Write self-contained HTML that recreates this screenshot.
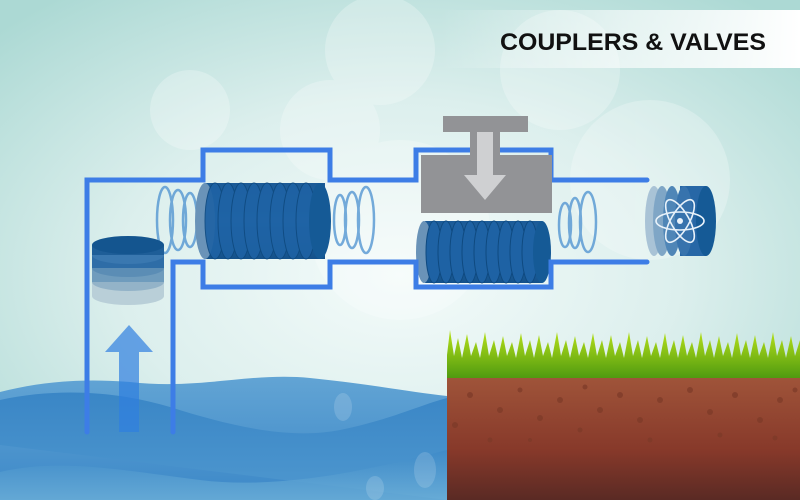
<!DOCTYPE html>
<html><head><meta charset="utf-8"><style>
html,body{margin:0;padding:0;width:800px;height:500px;overflow:hidden}
svg{display:block}
</style></head><body>
<svg width="800" height="500" viewBox="0 0 800 500" xmlns="http://www.w3.org/2000/svg">
<defs>
<radialGradient id="bg" cx="0.5" cy="0.55" r="0.7">
<stop offset="0" stop-color="#f4fbfa"/><stop offset="0.5" stop-color="#dcefed"/><stop offset="1" stop-color="#acd9d4"/>
</radialGradient>
<linearGradient id="ban" x1="0" x2="1"><stop offset="0" stop-color="#fff" stop-opacity="0"/><stop offset="0.5" stop-color="#fff" stop-opacity="0.6"/><stop offset="1" stop-color="#fff"/></linearGradient>
<linearGradient id="w1" x1="0" y1="0" x2="0" y2="1"><stop offset="0" stop-color="#62a4d4"/><stop offset="1" stop-color="#3c88c8"/></linearGradient>
<linearGradient id="w2" x1="0" y1="0" x2="0" y2="1"><stop offset="0" stop-color="#3a86c6"/><stop offset="1" stop-color="#4f98cf"/></linearGradient>
<linearGradient id="w3" x1="0" y1="0" x2="0" y2="1"><stop offset="0" stop-color="#3d89c8"/><stop offset="1" stop-color="#6db0d8"/></linearGradient>
<linearGradient id="soil" x1="0" y1="0" x2="0" y2="1"><stop offset="0" stop-color="#a0553a"/><stop offset="0.6" stop-color="#87392a"/><stop offset="1" stop-color="#5a2a24"/></linearGradient>
<linearGradient id="grass" x1="0" y1="0" x2="0" y2="1"><stop offset="0" stop-color="#b8e21a"/><stop offset="1" stop-color="#4f9a10"/></linearGradient>
<linearGradient id="cyl" x1="0" y1="0" x2="0" y2="1"><stop offset="0" stop-color="#1b5a96"/><stop offset="0.5" stop-color="#2a72b4"/><stop offset="1" stop-color="#14518a"/></linearGradient>
</defs>
<rect width="800" height="500" fill="url(#bg)"/>
<g fill="#fff" opacity="0.25">
<circle cx="380" cy="50" r="55"/><circle cx="560" cy="70" r="60"/><circle cx="650" cy="180" r="80"/><circle cx="330" cy="130" r="50"/><circle cx="190" cy="110" r="40"/><circle cx="400" cy="230" r="90"/>
</g>
<rect x="440" y="10" width="360" height="58" fill="url(#ban)"/>
<text x="500" y="50" textLength="266" lengthAdjust="spacingAndGlyphs" font-family="Liberation Sans, sans-serif" font-weight="bold" font-size="24" fill="#111">COUPLERS &amp; VALVES</text>

<!-- water -->
<path d="M0 392 C40 382 80 378 130 382 C200 390 250 372 310 378 C370 384 410 392 447 396 L447 500 L0 500Z" fill="url(#w1)"/>
<path d="M0 445 L0 400 C60 387 120 392 170 407 C230 426 290 440 340 430 C390 420 420 405 447 398 L447 500Z" fill="url(#w2)"/>
<path d="M0 500 L0 472 C60 458 120 470 200 480 C280 490 370 470 447 450 L447 500Z" fill="url(#w3)" opacity="0.8"/>
<g fill="#fff" opacity="0.15"><ellipse cx="343" cy="407" rx="9" ry="14"/><ellipse cx="425" cy="470" rx="11" ry="18"/><ellipse cx="375" cy="488" rx="9" ry="12"/></g>

<!-- soil -->
<rect x="447" y="375" width="353" height="125" fill="url(#soil)"/>
<g fill="#7c3a28" opacity="0.7">
<circle cx="455" cy="425" r="3"/><circle cx="470" cy="395" r="3"/><circle cx="500" cy="410" r="3"/><circle cx="520" cy="390" r="2.5"/><circle cx="540" cy="418" r="3"/><circle cx="560" cy="400" r="3"/><circle cx="585" cy="387" r="2.5"/><circle cx="600" cy="410" r="3"/><circle cx="620" cy="395" r="3"/><circle cx="640" cy="420" r="3"/><circle cx="660" cy="400" r="3"/><circle cx="690" cy="390" r="3"/><circle cx="710" cy="412" r="3"/><circle cx="735" cy="395" r="3"/><circle cx="760" cy="420" r="3"/><circle cx="780" cy="400" r="3"/><circle cx="795" cy="390" r="2.5"/><circle cx="490" cy="440" r="2.5"/><circle cx="580" cy="430" r="2.5"/><circle cx="650" cy="440" r="2.5"/><circle cx="720" cy="435" r="2.5"/><circle cx="775" cy="438" r="2.5"/><circle cx="530" cy="440" r="2"/>
</g>
<!-- grass -->
<path d="M447 378 L447 355 L450 330 L454 356 L458 338 L462 358 L467 334 L471 356 L476 342 L480 358 L485 332 L489 356 L494 340 L498 358 L503 336 L507 356 L512 342 L516 358 L521 333 L525 356 L530 340 L534 358 L539 335 L543 356 L548 342 L552 358 L557 332 L561 356 L566 340 L570 358 L575 336 L579 356 L584 342 L588 358 L593 333 L597 356 L602 340 L606 358 L611 335 L615 356 L620 342 L624 358 L629 332 L633 356 L638 340 L642 358 L647 336 L651 356 L656 342 L660 358 L665 333 L669 356 L674 340 L678 358 L683 335 L687 356 L692 342 L696 358 L701 332 L705 356 L710 340 L714 358 L719 336 L723 356 L728 342 L732 358 L737 333 L741 356 L746 340 L750 358 L755 335 L759 356 L764 342 L768 358 L773 332 L777 356 L782 340 L786 358 L791 336 L795 356 L800 340 L800 378Z" fill="url(#grass)"/>

<!-- rings -->
<g fill="none" stroke="#4a90d0" stroke-width="2.5" opacity="0.75">
<ellipse cx="165" cy="220" rx="8" ry="33"/><ellipse cx="178" cy="220" rx="8" ry="30"/><ellipse cx="190" cy="220" rx="7" ry="27"/>
<ellipse cx="340" cy="220" rx="6" ry="25"/><ellipse cx="352" cy="220" rx="7" ry="28"/><ellipse cx="366" cy="220" rx="8" ry="33"/>
<ellipse cx="565" cy="225" rx="6" ry="22"/><ellipse cx="575" cy="223" rx="6" ry="25"/><ellipse cx="588" cy="222" rx="8" ry="30"/>
</g>

<!-- left cylinder -->
<g>
<rect x="205" y="183" width="120" height="76" fill="url(#cyl)"/>
<ellipse cx="205" cy="221" rx="10" ry="38" fill="#6a93b8"/>
<g fill="#1e62a4" stroke="#0f4a80" stroke-width="1" opacity="0.9">
<ellipse cx="215" cy="221" rx="10" ry="38"/><ellipse cx="228" cy="221" rx="10" ry="38"/><ellipse cx="241" cy="221" rx="10" ry="38"/><ellipse cx="254" cy="221" rx="10" ry="38"/><ellipse cx="267" cy="221" rx="10" ry="38"/><ellipse cx="280" cy="221" rx="10" ry="38"/><ellipse cx="293" cy="221" rx="10" ry="38"/><ellipse cx="306" cy="221" rx="10" ry="38"/>
</g>
<ellipse cx="320" cy="221" rx="11" ry="38" fill="#155a96"/>
</g>

<!-- valve lower cylinder -->
<g>
<rect x="425" y="221" width="117" height="62" fill="url(#cyl)"/>
<ellipse cx="424" cy="252" rx="8" ry="31" fill="#6a93b8"/>
<g fill="#1e62a4" stroke="#0f4a80" stroke-width="1">
<ellipse cx="434" cy="252" rx="8" ry="31"/><ellipse cx="446" cy="252" rx="8" ry="31"/><ellipse cx="458" cy="252" rx="8" ry="31"/><ellipse cx="470" cy="252" rx="8" ry="31"/><ellipse cx="482" cy="252" rx="8" ry="31"/><ellipse cx="494" cy="252" rx="8" ry="31"/><ellipse cx="506" cy="252" rx="8" ry="31"/><ellipse cx="518" cy="252" rx="8" ry="31"/><ellipse cx="530" cy="252" rx="8" ry="31"/>
</g>
<ellipse cx="542" cy="252" rx="9" ry="31" fill="#155a96"/>
</g>

<!-- right cylinder with atom -->
<g>
<ellipse cx="654" cy="221" rx="9" ry="35" fill="#a9c3d6"/>
<ellipse cx="662" cy="221" rx="9" ry="35" fill="#7fa6c6"/>
<ellipse cx="672" cy="221" rx="9" ry="35" fill="#4f86b7"/>
<rect x="680" y="186" width="26" height="70" fill="#2767a6"/>
<ellipse cx="684" cy="221" rx="9" ry="35" fill="#3773ad"/>
<ellipse cx="706" cy="221" rx="10" ry="35" fill="#155a96"/>
<g fill="none" stroke="#e8f2fa" stroke-width="1.6">
<ellipse cx="680" cy="221" rx="24" ry="9"/>
<ellipse cx="680" cy="221" rx="24" ry="9" transform="rotate(60 680 221)"/>
<ellipse cx="680" cy="221" rx="24" ry="9" transform="rotate(-60 680 221)"/>
</g>
<circle cx="680" cy="221" r="3" fill="#e8f2fa"/>
</g>

<!-- stacked disks -->
<g>
<ellipse cx="128" cy="296" rx="36" ry="9" fill="#b9cfd8"/>
<rect x="92" y="282" width="72" height="14" fill="#b9cfd8"/>
<ellipse cx="128" cy="282" rx="36" ry="9" fill="#93b3c8"/>
<rect x="92" y="268" width="72" height="14" fill="#6f9cbd"/>
<ellipse cx="128" cy="268" rx="36" ry="9" fill="#5b8db5"/>
<rect x="92" y="255" width="72" height="13" fill="#2e6da7"/>
<ellipse cx="128" cy="255" rx="36" ry="9" fill="#3a78b0"/>
<rect x="92" y="245" width="72" height="10" fill="#1e5e98"/>
<ellipse cx="128" cy="245" rx="36" ry="9" fill="#14558f"/>
</g>

<!-- pipes -->
<g fill="none" stroke="#3d7de6" stroke-width="5" stroke-linejoin="miter" stroke-linecap="round">
<path d="M87 432 L87 180 L203 180 L203 150 L330 150 L330 180 L416 180 L416 150 L551 150 L551 180 L647 180"/>
<path d="M173 432 L173 262 L203 262 L203 287 L330 287 L330 262 L416 262 L416 287 L551 287 L551 262 L647 262"/>
</g>

<!-- valve gray -->
<rect x="443" y="116" width="85" height="16" fill="#929396"/>
<rect x="470" y="130" width="30" height="30" fill="#929396"/>
<rect x="421" y="155" width="131" height="58" fill="#929396"/>
<path d="M477 132 L493 132 L493 175 L506 175 L485 200 L464 175 L477 175Z" fill="#cfd0d2"/>

<!-- up arrow -->
<path d="M119 432 L119 352 L105 352 L129 325 L153 352 L139 352 L139 432Z" fill="#2f7fe0" opacity="0.7"/>
</svg>
</body></html>
